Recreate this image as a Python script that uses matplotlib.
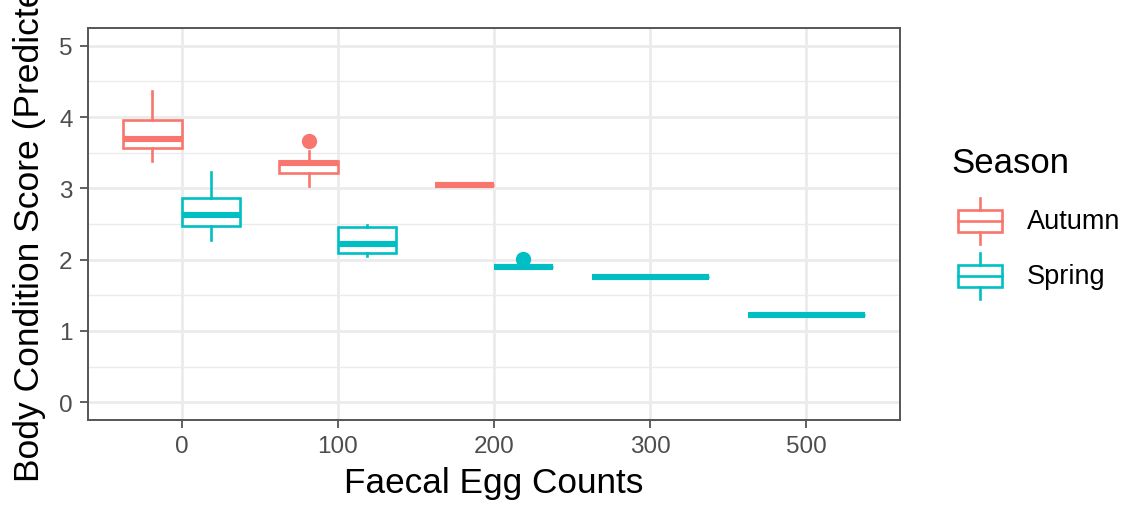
import matplotlib
matplotlib.use("Agg")
import matplotlib.pyplot as plt
from matplotlib.patches import Rectangle
from matplotlib.ticker import MultipleLocator

plt.rcParams["font.family"] = ["Liberation Sans", "DejaVu Sans"]

# ---- data -------------------------------------------------------------
categories = ["0", "100", "200", "300", "500"]
seasons = ["Autumn", "Spring"]
season_colors = {"Autumn": "#F8766D", "Spring": "#00BFC4"}

autumn_fec = ["0", "100", "200"]
autumn_lower = [3.39, 3.04, 3.05]
autumn_q1 = [3.57, 3.22, 3.05]
autumn_med = [3.69, 3.35, 3.05]
autumn_q3 = [3.96, 3.38, 3.05]
autumn_upper = [4.37, 3.53, 3.05]
autumn_outliers = [[], [3.67], []]

spring_fec = ["0", "100", "200", "300", "500"]
spring_lower = [2.27, 2.05, 1.90, 1.75, 1.23]
spring_q1 = [2.47, 2.09, 1.90, 1.75, 1.23]
spring_med = [2.63, 2.22, 1.90, 1.75, 1.23]
spring_q3 = [2.86, 2.46, 1.90, 1.75, 1.23]
spring_upper = [3.23, 2.49, 1.90, 1.75, 1.23]
spring_outliers = [[], [], [2.01], [], []]

x_label = "Faecal Egg Counts"
y_label = "Body Condition Score (Predicted)"
legend_title = "Season"

season_data = {
    "Autumn": (autumn_fec, autumn_lower, autumn_q1, autumn_med,
               autumn_q3, autumn_upper, autumn_outliers),
    "Spring": (spring_fec, spring_lower, spring_q1, spring_med,
               spring_q3, spring_upper, spring_outliers),
}

# ---- figure -----------------------------------------------------------
W, H = 1138, 506
fig = plt.figure(figsize=(W / 100, H / 100), dpi=100)
ax = fig.add_axes([88 / W, 1 - 421 / H, (900 - 88) / W, (421 - 29) / H])

grid_col = "#EBEBEB"
ax.set_xlim(-0.6, len(categories) - 0.4)
ax.set_ylim(-0.25, 5.25)
ax.yaxis.set_major_locator(MultipleLocator(1))
ax.yaxis.set_minor_locator(MultipleLocator(0.5))
ax.grid(True, which="major", color=grid_col, lw=2.0, zorder=0)
ax.grid(True, which="minor", axis="y", color=grid_col, lw=1.0, zorder=0)
ax.set_axisbelow(True)

# dodge: categories shared by both seasons get half-width boxes
groups_per_cat = {c: [s for s in seasons if c in season_data[s][0]]
                  for c in categories}
full_w = 0.75

for s in seasons:
    fec, lo, q1, med, q3, hi, outl = season_data[s]
    stats, pos, widths = [], [], []
    for i, c in enumerate(fec):
        members = groups_per_cat[c]
        n = len(members)
        w = full_w / n
        k = members.index(s)
        x = categories.index(c) - full_w / 2 + w * (k + 0.5)
        stats.append(dict(whislo=lo[i], q1=q1[i], med=med[i], q3=q3[i],
                          whishi=hi[i], fliers=outl[i]))
        pos.append(x)
        widths.append(w)
    col = season_colors[s]
    ax.bxp(stats, positions=pos, widths=widths, showcaps=False,
           patch_artist=True,
           boxprops=dict(facecolor="white", edgecolor=col, lw=1.9),
           medianprops=dict(color=col, lw=4.4, solid_capstyle="butt"),
           whiskerprops=dict(color=col, lw=1.9),
           flierprops=dict(marker="o", markerfacecolor=col,
                           markeredgecolor=col, markersize=10),
           manage_ticks=False, zorder=3)

ax.set_xticks(range(len(categories)))
ax.set_xticklabels(categories)
ax.tick_params(axis="both", which="major", length=6, width=1.2,
               color="#444444", labelsize=17.5, labelcolor="#4D4D4D", pad=5)
ax.tick_params(axis="both", which="minor", length=0)
for sp in ax.spines.values():
    sp.set_color("#555555")
    sp.set_linewidth(1.4)

ax.set_xlabel(x_label, fontsize=25.3, labelpad=6)
fig.text(30 / W, 1 - 482 / H, y_label, rotation=90, ha="center",
         va="bottom", fontsize=25.5)

# ---- legend -----------------------------------------------------------
lax = fig.add_axes([0, 0, 1, 1], facecolor="none")
lax.set_xlim(0, W)
lax.set_ylim(H, 0)
lax.axis("off")
lax.text(951, 163, legend_title, fontsize=25, ha="left", va="center")
key_centres = [222, 277]
for s, yc in zip(seasons, key_centres):
    col = season_colors[s]
    lax.add_patch(Rectangle((958, yc - 11), 44, 22, fill=False,
                            edgecolor=col, lw=1.9))
    lax.plot([958, 1002], [yc, yc], color=col, lw=1.9)
    lax.plot([980, 980], [yc - 23, yc - 11], color=col, lw=1.9)
    lax.plot([980, 980], [yc + 11, yc + 23], color=col, lw=1.9)
    lax.text(1027, yc, s, fontsize=19.5, ha="left", va="center")

fig.savefig("out.png", dpi=100)
